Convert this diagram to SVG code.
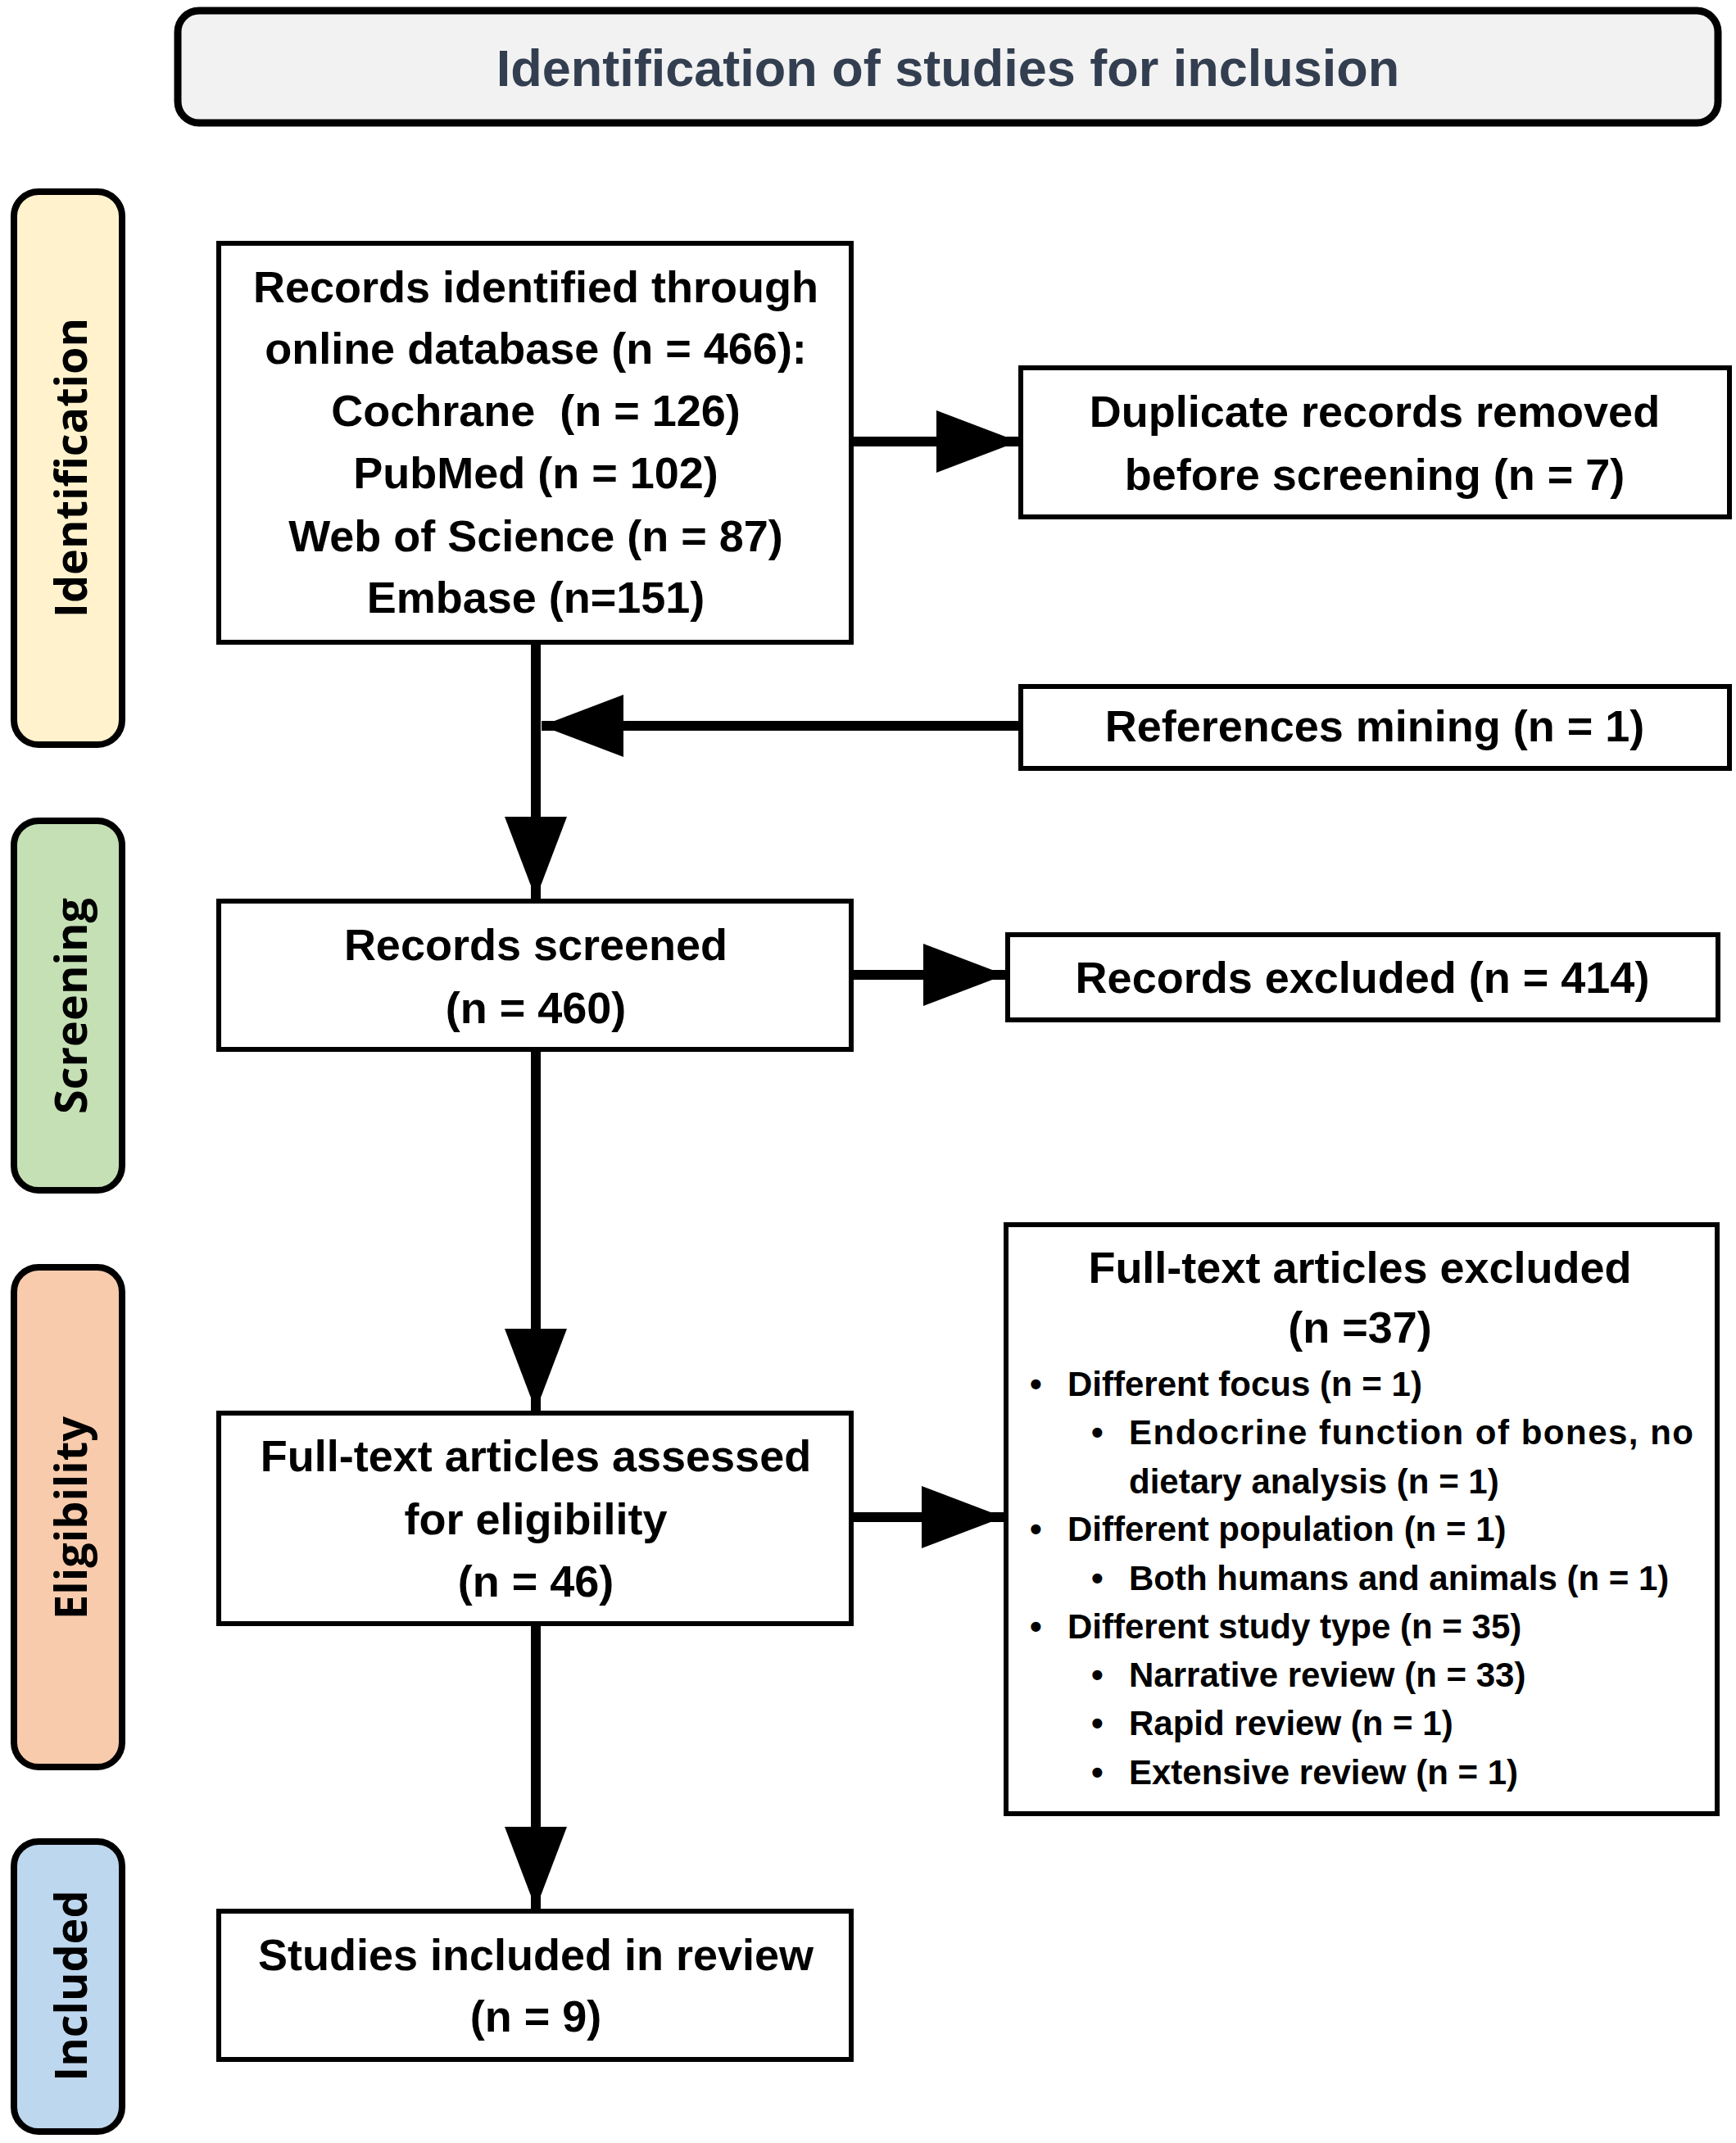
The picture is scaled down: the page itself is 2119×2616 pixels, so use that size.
<svg xmlns="http://www.w3.org/2000/svg" width="2119" height="2616" viewBox="0 0 2119 2616">
<style>
.box{fill:#fff;stroke:#000;stroke-width:6}
.stage{stroke:#000;stroke-width:8}
.t{font-family:"Liberation Sans",Arial,sans-serif;font-weight:bold;font-size:54px;fill:#000;text-anchor:middle}
.b{font-family:"Liberation Sans",Arial,sans-serif;font-weight:bold;font-size:42px;fill:#000}
.st{font-family:"Open Sans","DejaVu Sans",sans-serif;font-weight:bold;font-size:54px;fill:#000;text-anchor:middle}
.conn{stroke:#000;stroke-width:12;fill:none}
</style>
<defs>
<marker id="ah" markerUnits="userSpaceOnUse" markerWidth="100" markerHeight="76" refX="100" refY="38" orient="auto">
<path d="M0,0 L100,38 L0,76 Z" fill="#000"/>
</marker>
</defs>
<rect width="2119" height="2616" fill="#fff"/>

<g id="title">
<rect x="217" y="13" width="1880" height="137" rx="26" fill="#f2f2f2" stroke="#000" stroke-width="9"/>
<text x="1157" y="105" font-family="Liberation Sans,Arial,sans-serif" font-weight="bold" font-size="63" fill="#333f50" text-anchor="middle">Identification of studies for inclusion</text>
</g>

<g id="stage-identification">
<rect class="stage" x="17" y="234" width="132" height="675" rx="30" fill="#fff2cc"/>
<text class="st" transform="translate(106,571) rotate(-90)">Identification</text>
</g>
<g id="stage-screening">
<rect class="stage" x="17" y="1002" width="132" height="451" rx="30" fill="#c5e0b4"/>
<text class="st" transform="translate(106,1228) rotate(-90)">Screening</text>
</g>
<g id="stage-eligibility">
<rect class="stage" x="17" y="1547" width="132" height="610" rx="30" fill="#f8cbad"/>
<text class="st" transform="translate(106,1853) rotate(-90)">Eligibility</text>
</g>
<g id="stage-included">
<rect class="stage" x="17" y="2248" width="132" height="354" rx="30" fill="#bdd7ee"/>
<text class="st" transform="translate(106,2424) rotate(-90)">Included</text>
</g>

<g id="connectors">
<path class="conn" d="M1039,539 H1243" marker-end="url(#ah)"/>
<path class="conn" d="M1246,886 H661" marker-end="url(#ah)"/>
<path class="conn" d="M654,784 V1097" marker-end="url(#ah)"/>
<path class="conn" d="M1039,1190 H1227" marker-end="url(#ah)"/>
<path class="conn" d="M654,1281 V1722" marker-end="url(#ah)"/>
<path class="conn" d="M1039,1852 H1225" marker-end="url(#ah)"/>
<path class="conn" d="M654,1982 V2330" marker-end="url(#ah)"/>
</g>

<g id="records-identified">
<rect class="box" x="267" y="297" width="772" height="487"/>
<text class="t" x="654" y="369">Records identified through</text>
<text class="t" x="654" y="444">online database (n = 466):</text>
<text class="t" x="654" y="520" xml:space="preserve">Cochrane  (n = 126)</text>
<text class="t" x="654" y="596">PubMed (n = 102)</text>
<text class="t" x="654" y="673">Web of Science (n = 87)</text>
<text class="t" x="654" y="748">Embase (n=151)</text>
</g>

<g id="duplicates-removed">
<rect class="box" x="1246" y="449" width="865" height="182"/>
<text class="t" x="1678" y="521">Duplicate records removed</text>
<text class="t" x="1678" y="598">before screening (n = 7)</text>
</g>

<g id="references-mining">
<rect class="box" x="1246" y="838" width="865" height="100"/>
<text class="t" x="1678" y="905">References mining (n = 1)</text>
</g>

<g id="records-screened">
<rect class="box" x="267" y="1100" width="772" height="181"/>
<text class="t" x="654" y="1172">Records screened</text>
<text class="t" x="654" y="1249">(n = 460)</text>
</g>

<g id="records-excluded">
<rect class="box" x="1230" y="1141" width="867" height="104"/>
<text class="t" x="1663" y="1212">Records excluded (n = 414)</text>
</g>

<g id="fulltext-assessed">
<rect class="box" x="267" y="1725" width="772" height="257"/>
<text class="t" x="654" y="1796">Full-text articles assessed</text>
<text class="t" x="654" y="1873">for eligibility</text>
<text class="t" x="654" y="1949">(n = 46)</text>
</g>

<g id="fulltext-excluded">
<rect class="box" x="1228" y="1495" width="868" height="719"/>
<text class="t" x="1660" y="1566">Full-text articles excluded</text>
<text class="t" x="1660" y="1639">(n =37)</text>
<text class="b" x="1257" y="1704">•</text><text class="b" x="1303" y="1704">Different focus (n = 1)</text>
<text class="b" x="1332" y="1763">•</text><text class="b" x="1378" y="1763" textLength="689" lengthAdjust="spacing">Endocrine function of bones, no</text>
<text class="b" x="1378" y="1823">dietary analysis (n = 1)</text>
<text class="b" x="1257" y="1881">•</text><text class="b" x="1303" y="1881">Different population (n = 1)</text>
<text class="b" x="1332" y="1941">•</text><text class="b" x="1378" y="1941">Both humans and animals (n = 1)</text>
<text class="b" x="1257" y="2000">•</text><text class="b" x="1303" y="2000">Different study type (n = 35)</text>
<text class="b" x="1332" y="2059">•</text><text class="b" x="1378" y="2059">Narrative review (n = 33)</text>
<text class="b" x="1332" y="2118">•</text><text class="b" x="1378" y="2118">Rapid review (n = 1)</text>
<text class="b" x="1332" y="2178">•</text><text class="b" x="1378" y="2178">Extensive review (n = 1)</text>
</g>

<g id="studies-included">
<rect class="box" x="267" y="2333" width="772" height="181"/>
<text class="t" x="654" y="2405">Studies included in review</text>
<text class="t" x="654" y="2480">(n = 9)</text>
</g>
</svg>
